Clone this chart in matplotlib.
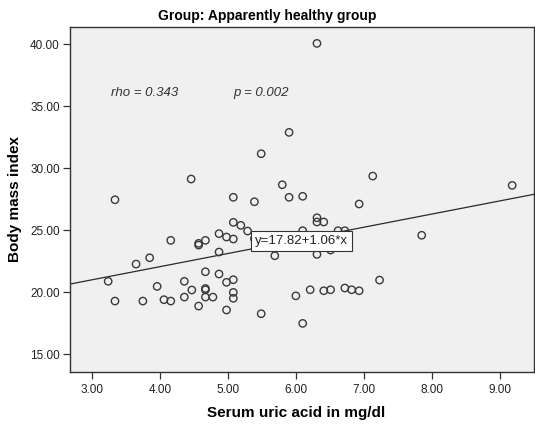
import numpy as np
import matplotlib.pyplot as plt

# Serum uric acid (mg/dl) vs BMI, apparently healthy group
uric_acid = [6.31, 5.90, 5.49, 4.46, 3.34, 5.80, 5.08, 5.39, 5.90, 6.10,
             7.13, 6.93, 9.18, 5.08, 5.19, 5.29, 4.87, 4.98, 5.08, 5.39,
             4.16, 4.57, 4.57, 4.67, 6.10, 6.31, 6.31, 6.41, 6.62, 6.72,
             7.85, 4.87, 5.69, 6.31, 6.51, 3.65, 3.85, 3.24, 4.67, 4.87,
             4.98, 5.08, 4.36, 3.96, 4.47, 4.67, 4.67, 3.34, 3.75, 4.06,
             4.16, 4.36, 4.67, 4.78, 4.57, 5.08, 5.08, 4.98, 5.49, 6.00,
             6.10, 6.21, 6.41, 6.51, 6.72, 6.82, 6.93, 7.23]
bmi = [40.05, 32.88, 31.16, 29.12, 27.45, 28.66, 27.65, 27.29, 27.65, 27.73,
       29.36, 27.11, 28.61, 25.63, 25.39, 24.93, 24.72, 24.45, 24.29, 24.31,
       24.18, 23.94, 23.80, 24.18, 24.96, 26.00, 25.66, 25.66, 24.96, 24.96,
       24.59, 23.24, 22.94, 23.05, 23.40, 22.27, 22.78, 20.88, 21.65, 21.47,
       20.80, 21.01, 20.88, 20.47, 20.18, 20.30, 20.20, 19.29, 19.29, 19.40,
       19.29, 19.61, 19.61, 19.61, 18.89, 19.99, 19.51, 18.57, 18.27, 19.71,
       17.49, 20.20, 20.12, 20.20, 20.34, 20.20, 20.12, 20.98]

intercept = 17.82
slope = 1.06
rho_text = 'rho = 0.343'
p_text = 'p = 0.002'

plt.rcParams['font.family'] = ['Liberation Sans', 'DejaVu Sans']

fig = plt.figure(figsize=(5.35, 4.26), dpi=100)
ax = fig.add_axes([0.131, 0.1275, 0.867, 0.81])
ax.set_facecolor('#f0f0f0')

# Точки
ax.scatter(uric_acid, bmi, s=28, facecolors='none', edgecolors='#3a3a3a',
           linewidths=1.0, zorder=3)

# Линия регрессии
ax.axline((0, intercept), slope=slope, color='#2a2a2a', lw=0.9, zorder=2)
ax.text(5.40, 24.1, f'y={intercept:.2f}+{slope:.2f}*x', fontsize=9.5,
        va='center', ha='left', color='#222222', zorder=4,
        bbox=dict(boxstyle='square,pad=0.3', fc='white', ec='#333333', lw=0.8))

ax.text(3.28, 36.05, rho_text, style='italic', fontsize=9.5, color='#333333',
        va='center')
ax.text(5.08, 36.05, p_text, style='italic', fontsize=9.5, color='#333333',
        va='center')

ax.set_xlim(2.68, 9.5)
ax.set_ylim(13.6, 41.4)
ax.set_xticks([3, 4, 5, 6, 7, 8, 9])
ax.set_yticks([15, 20, 25, 30, 35, 40])
ax.set_xticklabels([f'{v:.2f}' for v in ax.get_xticks()])
ax.set_yticklabels([f'{v:.2f}' for v in ax.get_yticks()])
ax.tick_params(labelsize=8.5, colors='#333333', length=5, width=0.9, pad=2.5)
ax.tick_params(axis='x', labelcolor='#222222', pad=4)
ax.tick_params(axis='y', labelcolor='#222222')

for s in ax.spines.values():
    s.set_color('#333333')
    s.set_linewidth(1.0)

ax.set_xlabel('Serum uric acid in mg/dl', fontsize=11, fontweight='bold')
ax.xaxis.set_label_coords(0.488, -0.1)
ax.set_ylabel('Body mass index', fontsize=11, fontweight='bold')
ax.yaxis.set_label_coords(-0.103, 0.5)
fig.text(0.5, 0.963, 'Group: Apparently healthy group', ha='center',
         va='center', fontsize=10, fontweight='bold')

plt.savefig('out.png', dpi=100)
